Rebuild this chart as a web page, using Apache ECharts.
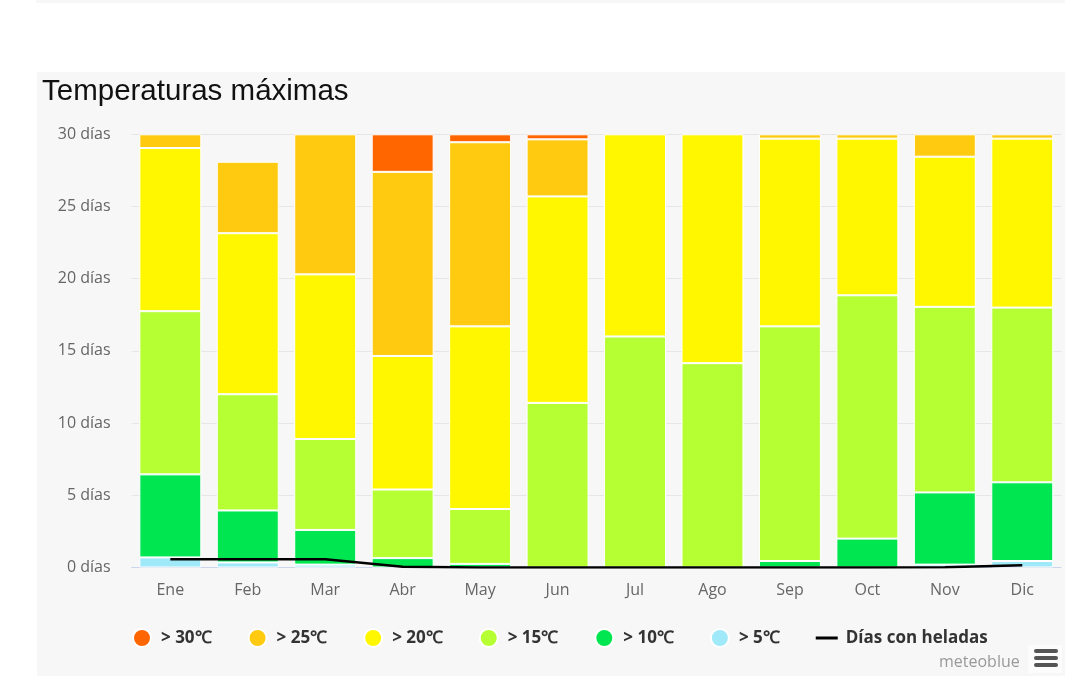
<!DOCTYPE html>
<html>
<head>
<meta charset="utf-8">
<script src="https://cdn.jsdelivr.net/npm/echarts@6/dist/echarts.min.js"></script>
<style>
  html, body { margin: 0; padding: 0; background: #fff; }
  #strip { position: absolute; left: 36px; top: 0; width: 1029px; height: 3px; background: #f7f7f7; }
  #panel { position: absolute; left: 37px; top: 72px; width: 1028px; height: 604px; background: #f7f7f7; }
  #echarts_box { position: absolute; left: 0; top: 0; width: 1088px; height: 681px; }
</style>
</head>
<body>
<div id="strip"></div>
<div id="panel"></div>
<div id="echarts_box"></div>
<script>
// datos
var meses = ['Ene', 'Feb', 'Mar', 'Abr', 'May', 'Jun', 'Jul', 'Ago', 'Sep', 'Oct', 'Nov', 'Dic'];
var nombres = ['> 30℃', '> 25℃', '> 20℃', '> 15℃', '> 10℃', '> 5℃'];
var colores = ['#ff6600', '#ffca0f', '#fff700', '#b6ff33', '#00e650', '#a0e9f8'];
// días por rango (null = sin días)
var dias30 = [null, null, null, 2.6, 0.55, 0.35, null, null, null, null, null, null];
var dias25 = [0.95, 4.95, 9.7, 12.75, 12.75, 3.95, null, null, 0.3, 0.3, 1.55, 0.3];
var dias20 = [11.3, 11.15, 11.4, 9.25, 12.65, 14.3, 14.0, 15.85, 13.0, 10.85, 10.4, 11.7];
var dias15 = [11.3, 8.05, 6.3, 4.75, 3.8, 11.4, 16.0, 14.15, 16.25, 16.85, 12.85, 12.1];
var dias10 = [5.75, 3.6, 2.4, 0.65, 0.25, null, null, null, 0.45, 2.0, 5.0, 5.45];
var dias5 = [0.7, 0.35, 0.2, null, null, null, null, null, null, null, 0.2, 0.45];
var heladas = [0.57, 0.57, 0.57, 0.05, 0, 0, 0, 0, 0, 0, 0.02, 0.15];
var yTicks = [0, 5, 10, 15, 20, 25, 30];

var mycharts = echarts.init(document.getElementById('echarts_box'));

var datosPorRango = [dias30, dias25, dias20, dias15, dias10, dias5];
var series = [];
// apilar de abajo (> 5) hacia arriba (> 30)
for (var i = datosPorRango.length - 1; i >= 0; i--) {
    series.push({
        name: nombres[i],
        type: 'bar',
        stack: 'dias',
        barCategoryGap: '20%',
        itemStyle: { color: colores[i], borderColor: '#ffffff', borderWidth: 1 },
        data: datosPorRango[i]
    });
}
series.push({
    name: 'Días con heladas',
    type: 'line',
    symbol: 'none',
    z: 5,
    lineStyle: { color: '#000', width: 2.5 },
    itemStyle: { color: '#000' },
    data: heladas
});

var legendData = nombres.map(function (n) {
    return { name: n, icon: 'circle' };
});
legendData.push({
    name: 'Días con heladas',
    icon: 'path://M0,0L22,0L22,3L0,3Z'
});

var optionObj = {
    animation: false,
    title: {
        text: 'Temperaturas máximas',
        left: 37,
        top: 72,
        textStyle: { fontFamily: 'Liberation Sans', fontSize: 29.5, fontWeight: 'normal', color: '#111' }
    },
    legend: {
        left: 127,
        top: 623,
        itemWidth: 22,
        itemHeight: 18,
        itemGap: 36,
        textStyle: {
            fontFamily: 'Open Sans', fontSize: 17, fontWeight: 'bold', color: '#333',
            padding: [0, 0, 0, 3]
        },
        data: legendData
    },
    grid: { left: 131.6, right: 27, top: 134.3, bottom: 113.5, containLabel: false },
    xAxis: {
        type: 'category',
        data: meses,
        axisLine: { lineStyle: { color: '#ccd6eb', width: 1 } },
        axisTick: { alignWithLabel: true, length: 11, lineStyle: { color: '#ccd6eb' } },
        axisLabel: { margin: 15, fontFamily: 'Open Sans', fontSize: 16, color: '#666' }
    },
    yAxis: {
        type: 'value',
        min: yTicks[0],
        max: yTicks[yTicks.length - 1],
        interval: 5,
        axisLine: { show: false },
        axisTick: { show: false },
        splitLine: { lineStyle: { color: '#e6e6e6', width: 1 } },
        axisLabel: {
            margin: 21, fontFamily: 'Open Sans', fontSize: 16, color: '#666',
            formatter: function (v) { return v + ' días'; }
        }
    },
    graphic: [
        { type: 'rect', shape: { x: 1028, y: 645, width: 34, height: 28 }, style: { fill: '#fcfcfc' } },
        { type: 'text', left: 939, top: 654, style: { text: 'meteoblue', fontFamily: 'Open Sans', fontSize: 16, fill: '#999' } },
        { type: 'rect', shape: { x: 1034, y: 649, width: 24, height: 4, r: 2 }, style: { fill: '#555' } },
        { type: 'rect', shape: { x: 1034, y: 656, width: 24, height: 4, r: 2 }, style: { fill: '#555' } },
        { type: 'rect', shape: { x: 1034, y: 663, width: 24, height: 4, r: 2 }, style: { fill: '#555' } }
    ],
    series: series
};

mycharts.setOption(optionObj);
</script>
</body>
</html>
